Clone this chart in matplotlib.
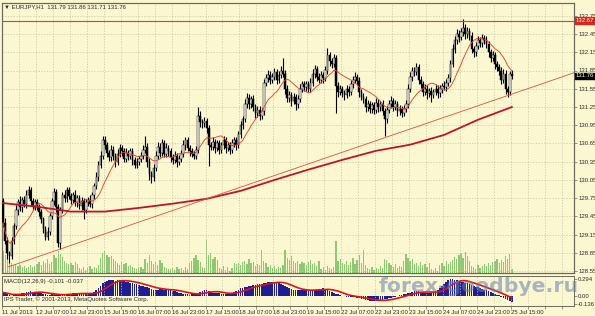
import numpy as np
import pandas as pd
import matplotlib
matplotlib.use('Agg')
import matplotlib.pyplot as plt

plt.rcParams['font.family'] = ['Liberation Sans', 'DejaVu Sans']

# EURJPY H1, 11 Jul 2013 .. 25 Jul 2013 (close of every hourly bar)
closes = [
    129.35, 129.05, 128.85, 128.80, 129.05, 129.30, 129.55, 129.68, 129.60, 129.72, 129.65, 129.80, 129.88, 129.70, 129.62, 129.68,
    129.60, 129.52, 129.40, 129.25, 129.12, 129.20, 129.45, 129.70, 129.85, 129.60, 129.02, 129.55, 129.80, 129.75, 129.88, 129.78,
    129.72, 129.80, 129.68, 129.75, 129.62, 129.70, 129.55, 129.68, 129.72, 129.65, 129.80, 129.95, 130.10, 130.30, 130.45, 130.70,
    130.62, 130.50, 130.42, 130.55, 130.45, 130.35, 130.48, 130.58, 130.52, 130.40, 130.50, 130.45, 130.52, 130.38, 130.30, 130.35,
    130.40, 130.45, 130.55, 130.60, 130.35, 130.15, 130.10, 130.25, 130.45, 130.60, 130.50, 130.65, 130.48, 130.58, 130.52,
    130.42, 130.38, 130.45, 130.35, 130.40, 130.48, 130.62, 130.70, 130.58, 130.52, 130.48, 130.45, 130.55, 131.10, 131.00, 130.98,
    131.02, 130.90, 130.62, 130.60, 130.68, 130.58, 130.65, 130.55, 130.62, 130.70, 130.58, 130.62, 130.55, 130.65, 130.70, 130.62,
    130.80, 130.95, 131.05, 131.30, 131.40, 131.30, 131.38, 131.25, 131.15, 131.20, 131.10, 131.18, 131.65, 131.72, 131.78, 131.70,
    131.75, 131.82, 131.70, 131.78, 131.85, 131.80, 131.55, 131.40, 131.45, 131.35, 131.42, 131.30, 131.38, 131.55, 131.62, 131.58,
    131.62, 131.55, 131.65, 131.80, 131.88, 131.75, 131.70, 131.78, 131.72, 131.85, 132.10, 132.00, 131.95, 132.05, 131.60, 131.50,
    131.55, 131.48, 131.45, 131.55, 131.50, 131.62, 131.70, 131.75, 131.68, 131.50, 131.42, 131.38, 131.25, 131.30, 131.22,
    131.28, 131.20, 131.32, 131.25, 131.30, 131.18, 131.05, 131.20, 131.30, 131.35, 131.25, 131.30, 131.18, 131.22, 131.15, 131.22,
    131.30, 131.55, 131.75, 131.85, 131.82, 131.90, 131.70, 131.62, 131.50, 131.55, 131.48, 131.52, 131.45, 131.50, 131.55, 131.48,
    131.55, 131.60, 131.58, 131.65, 131.72, 131.95, 132.20, 132.35, 132.45, 132.40, 132.48, 132.55, 132.45, 132.50, 132.42, 132.20,
    132.15, 132.25, 132.35, 132.30, 132.38, 132.35, 132.28, 132.15, 132.05, 132.10, 131.95, 131.90, 131.85, 131.70, 131.80,
    131.55, 131.50, 131.79, 131.76,
]
first_open = 129.70

# upper / lower shadow of each candle, in pips (0.01)
wick_up = [
    5, 8, 6, 4, 6, 5, 8, 6, 10, 5, 6, 8, 7, 5, 6, 5,
    6, 5, 6, 4, 5, 8, 6, 5, 7, 5, 6, 5, 6, 8, 5, 6,
    5, 6, 8, 5, 6, 7, 5, 6, 5, 8, 6, 5, 8, 6, 7, 8,
    8, 6, 5, 7, 6, 5, 8, 6, 5, 6, 7, 5, 6, 5, 4, 6,
    5, 6, 8, 18, 5, 6, 5, 6, 7, 8, 6, 7, 6, 7, 5,
    6, 5, 7, 5, 6, 6, 8, 5, 6, 5, 6, 5, 6, 15, 8, 6,
    6, 5, 5, 6, 7, 5, 6, 5, 6, 7, 5, 6, 5, 7, 6, 5,
    6, 7, 5, 8, 8, 6, 5, 6, 5, 7, 6, 5, 6, 7, 8, 6,
    6, 7, 5, 6, 8, 20, 5, 6, 7, 5, 6, 5, 6, 7, 6, 5,
    6, 5, 7, 8, 6, 5, 6, 7, 5, 8, 12, 6, 5, 7, 5, 6,
    6, 5, 5, 6, 5, 7, 6, 8, 5, 6, 5, 6, 5, 6, 5,
    6, 5, 7, 6, 5, 6, 5, 7, 6, 8, 5, 6, 5, 6, 5, 7,
    6, 7, 8, 6, 5, 8, 5, 6, 5, 7, 6, 5, 6, 5, 7, 6,
    6, 5, 7, 6, 8, 7, 8, 6, 8, 6, 7, 15, 6, 7, 5, 6,
    6, 7, 6, 5, 7, 5, 6, 5, 6, 7, 5, 6, 5, 6, 7,
    6, 5, 6, 7,
]
wick_dn = [
    8, 6, 10, 12, 5, 6, 5, 8, 6, 7, 5, 6, 5, 8, 6, 7,
    5, 7, 6, 8, 6, 5, 6, 5, 6, 8, 7, 10, 5, 6, 7, 5,
    6, 5, 6, 7, 5, 6, 15, 5, 6, 5, 6, 7, 5, 6, 5, 6,
    6, 8, 6, 5, 7, 8, 6, 5, 8, 6, 5, 7, 6, 8, 6, 5,
    6, 5, 6, 5, 8, 10, 10, 6, 5, 6, 7, 5, 6, 5, 7,
    7, 6, 5, 8, 6, 5, 6, 8, 6, 7, 5, 6, 5, 5, 8, 7,
    6, 7, 34, 6, 5, 8, 6, 7, 5, 6, 8, 5, 7, 5, 6, 8,
    5, 6, 6, 5, 6, 8, 6, 7, 8, 6, 7, 5, 6, 5, 6, 7,
    6, 5, 7, 6, 5, 6, 8, 7, 6, 8, 5, 10, 6, 5, 6, 7,
    7, 6, 5, 6, 7, 8, 6, 5, 7, 5, 6, 8, 6, 5, 45, 8,
    6, 7, 8, 6, 7, 5, 6, 5, 7, 8, 6, 7, 8, 6, 7,
    7, 6, 5, 8, 6, 7, 27, 6, 5, 6, 7, 5, 8, 6, 7, 5,
    5, 6, 5, 7, 6, 5, 8, 6, 7, 5, 10, 6, 12, 6, 5, 8,
    6, 7, 5, 6, 5, 6, 5, 7, 6, 8, 5, 6, 8, 6, 7, 6,
    7, 6, 5, 7, 6, 7, 6, 8, 6, 5, 7, 6, 8, 7, 6,
    8, 8, 5, 5,
]
volumes = [
    2200, 1800, 2000, 1500, 1000, 800, 900, 700, 800, 600, 700, 500, 600, 800, 600, 700,
    900, 1100, 800, 1200, 1000, 1400, 900, 1100, 1800, 1500, 2200, 1900, 1600, 1200, 1000, 900,
    1000, 800, 1100, 900, 500, 400, 600, 300, 500, 700, 400, 600, 500, 800, 1500, 2000,
    2200, 1800, 1600, 1700, 1400, 1200, 1000, 800, 1100, 900, 1000, 700, 800, 600, 500, 400,
    500, 600, 400, 1400, 1000, 1800, 1200, 900, 1100, 800, 1300, 1000, 600, 500, 400,
    400, 500, 300, 600, 400, 500, 300, 600, 400, 1000, 1200, 1500, 1800, 1300, 1100, 600,
    500, 3300, 1800, 2000, 1400, 1600, 1300, 500, 400, 700, 300, 600, 200, 500, 1000, 900,
    1000, 800, 1100, 1200, 900, 1400, 1000, 1100, 700, 900, 800, 2300, 1200, 1000, 600, 800,
    500, 700, 400, 600, 500, 800, 2300, 1500, 1300, 1700, 1200, 1000, 1200, 900, 1100, 1000,
    800, 1100, 1300, 900, 1000, 700, 1200, 400, 600, 300, 700, 500, 400, 600, 3200, 1200,
    1400, 1000, 900, 1200, 800, 1100, 1500, 900, 1300, 1800, 1000, 2300, 800, 500, 400,
    600, 300, 500, 400, 700, 500, 1400, 1300, 1000, 800, 600, 900, 500, 700, 600, 1200,
    1900, 1500, 1200, 1400, 900, 1000, 700, 1100, 800, 900, 600, 1000, 400, 300, 500, 200,
    800, 1000, 700, 1200, 900, 1100, 1300, 1600, 1400, 1800, 2000, 1500, 2100, 1700, 1200, 700,
    600, 400, 800, 500, 700, 900, 700, 1000, 800, 1100, 1200, 1400, 1000, 1300, 1100,
    1700, 1400, 1900, 400,
]

# MACD(12,26,9) main line per bar, as read from the indicator window
macd_main = [
    0.06, 0.05, 0.03, 0.01, 0.00, 0.01, 0.02, 0.03, 0.04, 0.05, 0.06, 0.07, 0.07, 0.08, 0.07, 0.07,
    0.06, 0.06, 0.05, 0.04, 0.03, 0.02, 0.02, 0.03, 0.03, 0.02,
    0.01, 0.02, 0.03, 0.03, 0.04, 0.04, 0.04, 0.05, 0.05, 0.05, 0.04, 0.04, 0.04, 0.04, 0.04,
    0.04, 0.05, 0.07, 0.10, 0.14, 0.18, 0.22,
    0.25, 0.26, 0.27,
    0.27, 0.27, 0.26, 0.27, 0.27, 0.26, 0.26, 0.25, 0.24, 0.23,
    0.22, 0.21, 0.20, 0.19, 0.18, 0.17, 0.16, 0.15, 0.14,
    0.12, 0.11, 0.11, 0.11, 0.12, 0.12, 0.11, 0.11, 0.10, 0.10, 0.09, 0.08,
    0.07, 0.06, 0.05, 0.04, 0.04,
    0.03, 0.03, 0.03, 0.03, 0.03, 0.04,
    0.07, 0.09, 0.10, 0.10, 0.09,
    0.07, 0.06, 0.05, 0.05, 0.05, 0.04, 0.04, 0.04, 0.04, 0.05,
    0.06, 0.07, 0.09, 0.11, 0.13, 0.14, 0.15,
    0.16, 0.17, 0.18, 0.19, 0.19, 0.20, 0.21, 0.21, 0.22, 0.23, 0.24, 0.25, 0.25, 0.25,
    0.24, 0.23, 0.21, 0.19, 0.17, 0.15, 0.14,
    0.12, 0.11, 0.10, 0.10, 0.10, 0.10, 0.10, 0.10, 0.10, 0.10, 0.11, 0.11, 0.11, 0.12, 0.12,
    0.13, 0.12, 0.11,
    0.09, 0.07, 0.05, 0.04, 0.03, 0.01, 0.00,
    0.00, -0.01, -0.01, -0.01, -0.02, -0.02, -0.03,
    -0.04, -0.05, -0.06, -0.07, -0.07, -0.08, -0.08, -0.08, -0.08, -0.08, -0.07, -0.07, -0.06, -0.05, -0.04, -0.03, -0.02,
    -0.01, 0.00, 0.01, 0.02, 0.03, 0.04, 0.05,
    0.06, 0.07, 0.08, 0.08, 0.08, 0.07, 0.07, 0.06, 0.06, 0.06, 0.06,
    0.07, 0.08, 0.10, 0.13, 0.17, 0.21, 0.24, 0.27, 0.29, 0.29, 0.28,
    0.27, 0.26, 0.25, 0.24, 0.23, 0.22, 0.21, 0.19, 0.18, 0.16, 0.15, 0.13, 0.12,
    0.11, 0.10, 0.08, 0.07, 0.05, 0.04, 0.02, 0.01, -0.01, -0.03, -0.05, -0.07, -0.09, -0.101,
]

# slow moving average, read every 16 bars
slow_ma_bars = [0, 16, 32, 48, 64, 80, 96, 112, 128, 144, 160, 176, 192, 208, 224, 240]
slow_ma = [129.67, 129.61, 129.53, 129.53, 129.59, 129.66, 129.74, 129.87,
           130.05, 130.22, 130.38, 130.53, 130.63, 130.79, 131.04, 131.25]

# trend line anchors (bar, price) and horizontal level
trend_bars = [2.4, 239.0]
trend_prices = [128.62, 131.45]
hline_level = 132.67

time_labels = ['11 Jul 2013', '12 Jul 07:00', '12 Jul 23:00', '15 Jul 15:00', '16 Jul 07:00',
               '16 Jul 23:00', '17 Jul 15:00', '18 Jul 07:00', '18 Jul 23:00', '19 Jul 15:00',
               '22 Jul 07:00', '22 Jul 23:00', '23 Jul 15:00', '24 Jul 07:00', '24 Jul 23:00',
               '25 Jul 15:00']
price_ticks = [128.55, 128.85, 129.15, 129.45, 129.75, 130.05, 130.35, 130.65, 130.95,
               131.25, 131.55, 131.85, 132.15, 132.45, 132.75]

n = len(closes)
assert len(wick_up) == n and len(wick_dn) == n and len(volumes) == n
assert len(macd_main) == n, len(macd_main)

c = np.array(closes)
o = np.r_[first_open, c[:-1]]
hi = np.maximum(o, c) + np.array(wick_up) / 100
lo = np.minimum(o, c) - np.array(wick_dn) / 100
idx = np.arange(n)

s = pd.Series(c)
fast_ma = s.rolling(12, min_periods=1).mean()
macd = pd.Series(macd_main)
signal = macd.rolling(9, min_periods=1).mean()

bg = '#fbf7d0'
gridc = '#c8c5a4'
txt = '#2a2a2a'
fs = 4.3

W, H = 595, 316
fig = plt.figure(figsize=(W / 100, H / 100), dpi=100, facecolor=bg)


def box(x0, y0, x1, y1):
    return [x0 / W, 1 - y1 / H, (x1 - x0) / W, (y1 - y0) / H]


xlim = (-0.5, 269.3)
ax = fig.add_axes(box(2, 3, 574, 273))
axm = fig.add_axes(box(2, 276, 574, 306))
axv = ax.twinx()

# volumes behind the candles
axv.set_zorder(ax.get_zorder() - 1)
ax.patch.set_visible(False)
axv.patch.set_visible(True)
axv.patch.set_facecolor(bg)
axv.bar(idx, volumes, width=0.6, color='#8ec873', linewidth=0)
axv.set_ylim(0, 27000)
axv.set_yticks([])

# candles
up = c >= o
ax.vlines(idx, lo, hi, color='black', lw=0.8, zorder=3)
ax.bar(idx, np.maximum(np.abs(c - o), 0.008), bottom=np.minimum(o, c), width=0.78,
       color=np.where(up, 'white', 'black'), edgecolor='black', linewidth=0.35, zorder=4)

ax.plot(idx, fast_ma, color='#e2432e', lw=0.65, zorder=5)
ax.plot(slow_ma_bars, slow_ma, color='#c0142a', lw=1.3, zorder=5)
slope = (trend_prices[1] - trend_prices[0]) / (trend_bars[1] - trend_bars[0])
ax.plot([trend_bars[0], xlim[1]], [trend_prices[0], trend_prices[0] + slope * (xlim[1] - trend_bars[0])],
        color='#e0503a', lw=0.6, zorder=5)
ax.axhline(hline_level, color='#b5503c', lw=0.8, zorder=5)

grid_x = np.arange(-0.5, xlim[1], 8)
for a in (ax, axm):
    a.set_xlim(*xlim)
    a.set_xticks(grid_x)
    a.grid(True, axis='x', color=gridc, ls=(0, (2, 2)), lw=0.5)
    a.set_facecolor(bg)
    for sp in a.spines.values():
        sp.set_color('#6a6a60')
        sp.set_linewidth(0.7)
ax.tick_params(axis='x', length=0, labelbottom=False)

ax.set_ylim(128.52, 132.96)
ax.yaxis.tick_right()
ax.set_yticks(price_ticks)
ax.set_yticklabels([f'{p:.2f}' for p in price_ticks])
ax.grid(True, axis='y', color=gridc, ls=(0, (2, 2)), lw=0.5)
ax.tick_params(axis='y', length=2, width=0.5, pad=1, labelsize=fs, labelcolor=txt, color='#6a6a60')

# MACD window
axm.bar(idx, macd, width=0.8, color='#1e1e92', linewidth=0)
axm.plot(idx, signal, color='#e01414', lw=1.2)
axm.set_ylim(-0.173, 0.346)
axm.yaxis.tick_right()
axm.set_yticks([0.294, 0.0, -0.136])
axm.set_yticklabels(['0.294', '0.00', '-0.136'])
axm.tick_params(axis='y', length=2, width=0.5, pad=1, labelsize=fs, labelcolor=txt, color='#6a6a60')
axm.set_xticks(grid_x)
xlabels = []
for i in range(len(grid_x)):
    k = i // 2
    xlabels.append(time_labels[k] if i % 2 == 0 and k < len(time_labels) else '')
axm.set_xticklabels(xlabels)
axm.tick_params(axis='x', length=2, width=0.5, pad=1, labelsize=fs, labelcolor=txt, color='#6a6a60')
for lab in axm.get_xticklabels():
    lab.set_ha('left')

# price tags on the right scale
ax.text(1.003, hline_level, f'{hline_level:.2f}', transform=ax.get_yaxis_transform(), fontsize=fs,
        color='white', va='center', ha='left',
        bbox=dict(boxstyle='square,pad=0.15', fc='#d8261c', ec='#d8261c'))
ax.text(1.003, closes[-1], f'{closes[-1]:.2f}', transform=ax.get_yaxis_transform(), fontsize=fs,
        color='white', va='center', ha='left',
        bbox=dict(boxstyle='square,pad=0.15', fc='black', ec='black'))

fig.text(4 / W, 1 - 7 / H, '\u25bc EURJPY,H1  131.79 131.86 131.71 131.76', fontsize=fs, color=txt, va='center')
fig.text(4 / W, 1 - 281 / H, 'MACD(12,26,9) -0.101 -0.037', fontsize=fs, color=txt, va='center')
fig.text(4 / W, 1 - 299 / H, 'IPS Trader, \u00a9 2001-2013, MetaQuotes Software Corp.', fontsize=fs, color=txt, va='center')
fig.text(479 / W, 1 - 287 / H, 'forex-goodbye.ru', fontsize=14.7, fontweight='bold', family='DejaVu Sans',
         color='#6580b4', alpha=0.55, ha='center', va='center')

fig.savefig('out.png', dpi=100, facecolor=bg)
